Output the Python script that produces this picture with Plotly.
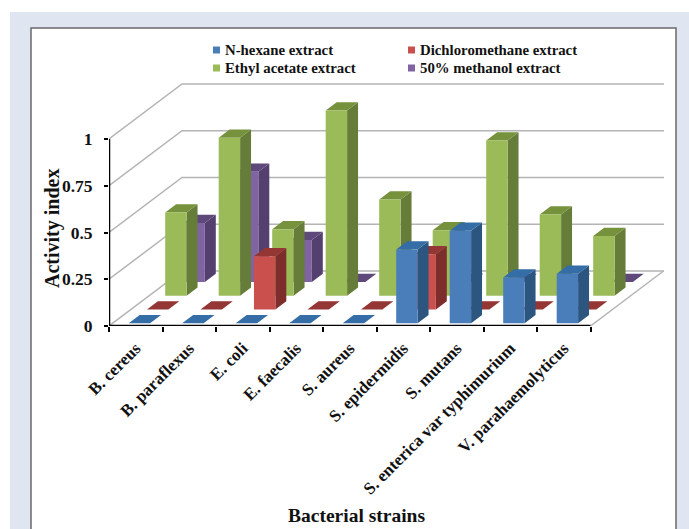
import plotly.graph_objects as go

# Bacterial strains along the category axis
strains = ["B. cereus", "B. paraflexus", "E. coli", "E. faecalis", "S. aureus",
           "S. epidermidis", "S. mutans", "S. enterica var typhimurium", "V. parahaemolyticus"]

# Activity index of each extract per strain
n_hexane = [0, 0, 0, 0, 0, 0.395, 0.495, 0.245, 0.265]
dichloromethane = [0, 0, 0.285, 0, 0, 0.295, 0, 0, 0]
ethyl_acetate = [0.445, 0.845, 0.355, 0.99, 0.515, 0.35, 0.83, 0.435, 0.32]
methanol_50 = [0.315, 0.59, 0.225, 0, 0, 0, 0, 0, 0]

series_names = ["N-hexane extract", "Dichloromethane extract",
                "Ethyl acetate extract", "50% methanol extract"]
series_values = [n_hexane, dichloromethane, ethyl_acetate, methanol_50]

# Face colours: (front, side, top)
series_faces = [("#4a7ebb", "#2c5580", "#356ea6"),
                ("#c9504d", "#7d2d2b", "#943634"),
                ("#9bbb59", "#667d3a", "#76923c"),
                ("#8064a2", "#54406f", "#5f497a")]

value_ticks = [0, 0.25, 0.5, 0.75, 1]
value_tick_text = ["0", "0.25", "0.5", "0.75", "1"]

W, H = 689, 529
LEFT, RIGHT, TOP, BOTTOM = 109, 25, 60, 203
UNIT_X, UNIT_Y = 53.5, 187.0            # pixels per category and per index unit
X_MAX = (W - LEFT - RIGHT) / UNIT_X
Y_MAX = (H - TOP - BOTTOM) / UNIT_Y
DEPTH_X, DEPTH_Y = 73 / UNIT_X, 55 / UNIT_Y   # oblique offset of the full floor depth
BAR_WIDTH = 0.4


def project(x, value, depth):
    """Oblique projection of (category position, value, depth 0..1) onto the 2D axes."""
    return x + depth * DEPTH_X, value + depth * DEPTH_Y


def face_path(points):
    xs, ys = [], []
    for x, v, d in points:
        px, py = project(x, v, d)
        xs.append(px)
        ys.append(py)
    xs.extend([xs[0], None])
    ys.extend([ys[0], None])
    return xs, ys


def px_x(p):
    return (p - LEFT) / (W - LEFT - RIGHT)


def px_y(p):
    return (H - BOTTOM - p) / (H - TOP - BOTTOM)


fig = go.Figure()

# Back wall and side wall gridlines
for v in value_ticks:
    xs, ys = zip(*[project(0, v, 0), project(0, v, 1), project(X_MAX, v, 1)])
    fig.add_trace(go.Scatter(x=[xs[0], xs[1], X_MAX], y=list(ys), mode="lines",
                             line=dict(color="#b4b4b4", width=1.5),
                             hoverinfo="skip", showlegend=False))
floor_edge = [project(len(strains), 0, 0), project(len(strains), 0, 1)]
fig.add_trace(go.Scatter(x=[p[0] for p in floor_edge], y=[p[1] for p in floor_edge], mode="lines",
                         line=dict(color="#b4b4b4", width=1.5), hoverinfo="skip", showlegend=False))

# Bars, painted from the rear series to the front one
for k in reversed(range(len(series_values))):
    values = series_values[k]
    d0, d1 = (k + 0.2) / 4, (k + 0.8) / 4
    front, side, top = series_faces[k]
    fronts, sides, tops = ([], []), ([], []), ([], [])
    for i, v in enumerate(values):
        x0 = i + 0.5 - BAR_WIDTH / 2
        x1 = i + 0.5 + BAR_WIDTH / 2
        for target, pts in (
            (sides, [(x1, 0, d0), (x1, 0, d1), (x1, v, d1), (x1, v, d0)]),
            (tops, [(x0, v, d0), (x1, v, d0), (x1, v, d1), (x0, v, d1)]),
            (fronts, [(x0, 0, d0), (x1, 0, d0), (x1, v, d0), (x0, v, d0)]),
        ):
            xs, ys = face_path(pts)
            target[0].extend(xs)
            target[1].extend(ys)
    for path, colour in ((sides, side), (tops, top), (fronts, front)):
        fig.add_trace(go.Scatter(x=path[0], y=path[1], mode="lines", fill="toself",
                                 fillcolor=colour, line=dict(width=0, color=colour),
                                 name=series_names[k], hoverinfo="name", showlegend=False))

# Black value and category axis lines
fig.add_trace(go.Scatter(x=[0, 0], y=[0, 1], mode="lines", line=dict(color="black", width=2.5),
                         hoverinfo="skip", showlegend=False, cliponaxis=False))
fig.add_trace(go.Scatter(x=[0, len(strains)], y=[0, 0], mode="lines",
                         line=dict(color="black", width=2.5),
                         hoverinfo="skip", showlegend=False, cliponaxis=False))

SERIF = "Liberation Serif"
INK = "#111111"

shapes = [
    # tinted page band with the white chart panel on top
    dict(type="rect", xref="paper", yref="paper", layer="below",
         x0=px_x(10), x1=px_x(689), y0=px_y(529), y1=px_y(12),
         fillcolor="#e0e5f2", line=dict(width=0)),
    dict(type="rect", xref="paper", yref="paper", layer="below",
         x0=px_x(31), x1=px_x(676), y0=px_y(535), y1=px_y(28),
         fillcolor="white", line=dict(color="#6a6a6a", width=1.5)),
]

# Axis titles sit off-centre from the plot area
annotations = [
    dict(xref="paper", yref="paper", x=px_x(356), y=px_y(515), text="Bacterial strains",
         showarrow=False, xanchor="center", yanchor="middle",
         font=dict(family=SERIF, size=19.5, color=INK, weight="bold")),
    dict(xref="paper", yref="paper", x=px_x(52), y=px_y(229), text="Activity index",
         showarrow=False, textangle=-90, xanchor="center", yanchor="middle",
         font=dict(family=SERIF, size=20, color=INK, weight="bold")),
]

# Two-column key above the plot
key_x = [213, 408]
key_y = [50, 68]
for k, name in enumerate(series_names):
    col, row = k % 2, k // 2
    sx, sy = key_x[col], key_y[row]
    shapes.append(dict(type="rect", xref="paper", yref="paper",
                       x0=px_x(sx), x1=px_x(sx + 7), y0=px_y(sy + 3.5), y1=px_y(sy - 3.5),
                       fillcolor=series_faces[k][0], line=dict(width=0)))
    annotations.append(dict(xref="paper", yref="paper", x=px_x(sx + 10), y=px_y(sy + 0.5),
                            text=name, showarrow=False, xanchor="left", yanchor="middle",
                            font=dict(family=SERIF, size=14.8, color=INK, weight="bold")))

fig.update_layout(
    width=W, height=H, autosize=False,
    margin=dict(l=LEFT, r=RIGHT, t=TOP, b=BOTTOM, pad=0),
    paper_bgcolor="white", plot_bgcolor="rgba(0,0,0,0)",
    showlegend=False, shapes=shapes, annotations=annotations,
    xaxis=dict(
        range=[0, X_MAX], showgrid=False, zeroline=False, showline=False,
        tickmode="array", tickvals=[i + 0.5 for i in range(len(strains))], ticktext=strains,
        tickangle=-45, ticks="", ticklabelstandoff=8,
        tickfont=dict(family=SERIF, size=17, color=INK, weight="bold"),
        minor=dict(tickmode="array", tickvals=list(range(len(strains) + 1)), ticks="outside",
                   ticklen=5, tickwidth=2, tickcolor="black", showgrid=False),
        automargin=False,
    ),
    yaxis=dict(
        range=[0, Y_MAX], showgrid=False, zeroline=False, showline=False,
        tickmode="array", tickvals=value_ticks, ticktext=value_tick_text,
        ticks="outside", ticklen=4, tickwidth=2, tickcolor="black", ticklabelstandoff=8,
        tickfont=dict(family=SERIF, size=17.5, color=INK, weight="bold"),
        automargin=False,
    ),
)

fig.write_html("out.html")
